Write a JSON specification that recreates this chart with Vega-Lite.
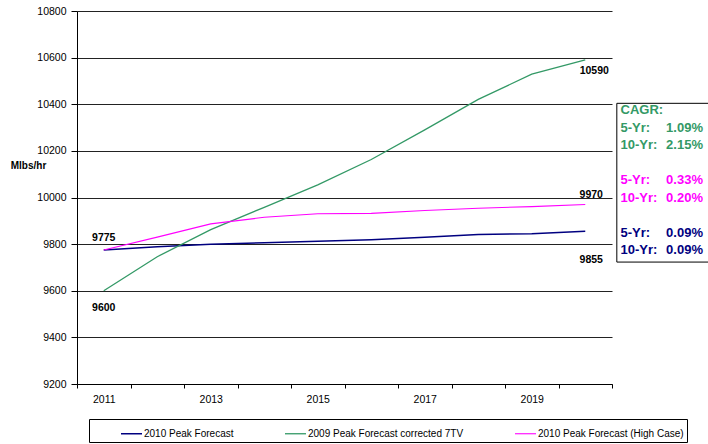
{
  "$schema": "https://vega.github.io/schema/vega-lite/v6.json",
  "width": 535,
  "height": 373,
  "autosize": {"type": "none"},
  "padding": {"left": 77, "top": 11, "right": 96, "bottom": 60},
  "background": "white",
  "config": {
    "view": {"stroke": null},
    "font": "Liberation Sans",
    "axis": {"labelFont": "Liberation Sans", "labelColor": "#000", "domainColor": "#000", "tickColor": "#000"}
  },
  "datasets": {
    "series": [
      {"year": 2011, "series": "2010 Peak Forecast", "value": 9775},
      {"year": 2012, "series": "2010 Peak Forecast", "value": 9789},
      {"year": 2013, "series": "2010 Peak Forecast", "value": 9799},
      {"year": 2014, "series": "2010 Peak Forecast", "value": 9806},
      {"year": 2015, "series": "2010 Peak Forecast", "value": 9812},
      {"year": 2016, "series": "2010 Peak Forecast", "value": 9819},
      {"year": 2017, "series": "2010 Peak Forecast", "value": 9829},
      {"year": 2018, "series": "2010 Peak Forecast", "value": 9841},
      {"year": 2019, "series": "2010 Peak Forecast", "value": 9845},
      {"year": 2020, "series": "2010 Peak Forecast", "value": 9855},
      {"year": 2011, "series": "2009 Peak Forecast corrected 7TV", "value": 9600},
      {"year": 2012, "series": "2009 Peak Forecast corrected 7TV", "value": 9746},
      {"year": 2013, "series": "2009 Peak Forecast corrected 7TV", "value": 9862},
      {"year": 2014, "series": "2009 Peak Forecast corrected 7TV", "value": 9958},
      {"year": 2015, "series": "2009 Peak Forecast corrected 7TV", "value": 10054},
      {"year": 2016, "series": "2009 Peak Forecast corrected 7TV", "value": 10163},
      {"year": 2017, "series": "2009 Peak Forecast corrected 7TV", "value": 10290},
      {"year": 2018, "series": "2009 Peak Forecast corrected 7TV", "value": 10421},
      {"year": 2019, "series": "2009 Peak Forecast corrected 7TV", "value": 10529},
      {"year": 2020, "series": "2009 Peak Forecast corrected 7TV", "value": 10590},
      {"year": 2011, "series": "2010 Peak Forecast (High Case)", "value": 9775},
      {"year": 2012, "series": "2010 Peak Forecast (High Case)", "value": 9830},
      {"year": 2013, "series": "2010 Peak Forecast (High Case)", "value": 9887},
      {"year": 2014, "series": "2010 Peak Forecast (High Case)", "value": 9915},
      {"year": 2015, "series": "2010 Peak Forecast (High Case)", "value": 9930},
      {"year": 2016, "series": "2010 Peak Forecast (High Case)", "value": 9932},
      {"year": 2017, "series": "2010 Peak Forecast (High Case)", "value": 9944},
      {"year": 2018, "series": "2010 Peak Forecast (High Case)", "value": 9954},
      {"year": 2019, "series": "2010 Peak Forecast (High Case)", "value": 9961},
      {"year": 2020, "series": "2010 Peak Forecast (High Case)", "value": 9970}
    ],
    "cagr": [
      {"slot": "h", "term": "CAGR:", "rate": "", "series": "2009 Peak Forecast corrected 7TV"},
      {"slot": "g5", "term": "5-Yr:", "rate": "1.09%", "series": "2009 Peak Forecast corrected 7TV"},
      {"slot": "g10", "term": "10-Yr:", "rate": "2.15%", "series": "2009 Peak Forecast corrected 7TV"},
      {"slot": "m5", "term": "5-Yr:", "rate": "0.33%", "series": "2010 Peak Forecast (High Case)"},
      {"slot": "m10", "term": "10-Yr:", "rate": "0.20%", "series": "2010 Peak Forecast (High Case)"},
      {"slot": "b5", "term": "5-Yr:", "rate": "0.09%", "series": "2010 Peak Forecast"},
      {"slot": "b10", "term": "10-Yr:", "rate": "0.09%", "series": "2010 Peak Forecast"}
    ]
  },
  "layer": [
    {
      "data": {"name": "series"},
      "layer": [
        {
          "mark": {"type": "line", "interpolate": "linear"},
          "encoding": {
            "x": {
              "field": "year", "type": "ordinal",
              "scale": {"type": "band", "paddingInner": 0, "paddingOuter": 0},
              "axis": {
                "title": null, "grid": false, "labelAngle": 0,
                "tickBand": "extent", "tickSize": 4, "labelPadding": 6,
                "labelFontSize": 10.5, "labelColor": "#000",
                "labelOverlap": "parity", "labelSeparation": 40
              }
            },
            "y": {
              "field": "value", "type": "quantitative",
              "scale": {"domain": [9200, 10800], "nice": false, "zero": false},
              "axis": {
                "values": [9200, 9400, 9600, 9800, 10000, 10200, 10400, 10600, 10800],
                "format": "d", "grid": true, "gridColor": "#222", "gridOpacity": 1, "gridWidth": 1,
                "tickSize": 6, "labelPadding": 5, "labelFontSize": 10.5,
                "title": "Mlbs/hr", "titleAngle": 0, "titleAlign": "center", "titleBaseline": "middle",
                "titleX": -49, "titleY": 154, "titleFontSize": 10, "titleFontWeight": "bold", "titleColor": "#000"
              }
            },
            "color": {
              "field": "series", "type": "nominal",
              "scale": {
                "domain": ["2010 Peak Forecast", "2009 Peak Forecast corrected 7TV", "2010 Peak Forecast (High Case)"],
                "range": ["#000080", "#339966", "#ff00ff"]
              },
              "legend": {
                "orient": "none", "legendX": 12, "legendY": 408, "direction": "horizontal",
                "title": null, "symbolType": "stroke", "symbolSize": 441, "symbolStrokeWidth": 1.5,
                "labelFontSize": 10, "labelFont": "Liberation Sans", "labelColor": "#000", "labelOffset": 1,
                "labelLimit": 0, "columnPadding": 22, "padding": 3, "symbolOffset": 28,
                "strokeColor": "#000", "fillColor": "#fff"
              }
            },
            "strokeWidth": {
              "field": "series", "type": "nominal",
              "scale": {
                "domain": ["2010 Peak Forecast", "2009 Peak Forecast corrected 7TV", "2010 Peak Forecast (High Case)"],
                "range": [1.5, 1.1, 1.5]
              },
              "legend": null
            }
          }
        },
        {
          "transform": [{"filter": "datum.year == 2011 && datum.series == '2010 Peak Forecast (High Case)'"}],
          "mark": {"type": "text", "fontWeight": "bold", "fontSize": 10.5, "color": "#000", "dy": -11.5},
          "encoding": {
            "x": {"field": "year", "type": "ordinal"},
            "y": {"field": "value", "type": "quantitative"},
            "text": {"field": "value", "type": "quantitative", "format": "d"}
          }
        },
        {
          "transform": [{"filter": "datum.year == 2011 && datum.series == '2009 Peak Forecast corrected 7TV'"}],
          "mark": {"type": "text", "fontWeight": "bold", "fontSize": 10.5, "color": "#000", "dy": 17},
          "encoding": {
            "x": {"field": "year", "type": "ordinal"},
            "y": {"field": "value", "type": "quantitative"},
            "text": {"field": "value", "type": "quantitative", "format": "d"}
          }
        },
        {
          "transform": [{"filter": "datum.year == 2020 && datum.series == '2009 Peak Forecast corrected 7TV'"}],
          "mark": {"type": "text", "fontWeight": "bold", "fontSize": 10.5, "color": "#000", "dx": 9, "dy": 11},
          "encoding": {
            "x": {"field": "year", "type": "ordinal"},
            "y": {"field": "value", "type": "quantitative"},
            "text": {"field": "value", "type": "quantitative", "format": "d"}
          }
        },
        {
          "transform": [{"filter": "datum.year == 2020 && datum.series == '2010 Peak Forecast (High Case)'"}],
          "mark": {"type": "text", "fontWeight": "bold", "fontSize": 10.5, "color": "#000", "dx": 6, "dy": -9},
          "encoding": {
            "x": {"field": "year", "type": "ordinal"},
            "y": {"field": "value", "type": "quantitative"},
            "text": {"field": "value", "type": "quantitative", "format": "d"}
          }
        },
        {
          "transform": [{"filter": "datum.year == 2020 && datum.series == '2010 Peak Forecast'"}],
          "mark": {"type": "text", "fontWeight": "bold", "fontSize": 10.5, "color": "#000", "dx": 6, "dy": 29},
          "encoding": {
            "x": {"field": "year", "type": "ordinal"},
            "y": {"field": "value", "type": "quantitative"},
            "text": {"field": "value", "type": "quantitative", "format": "d"}
          }
        }
      ]
    },
    {
      "data": {"values": [{}]},
      "mark": {"type": "rect", "fill": "#fff", "stroke": "#000", "strokeWidth": 1},
      "encoding": {
        "x": {"datum": 2020.59, "type": "quantitative", "scale": {"domain": [2010.5, 2020.5], "nice": false, "zero": false}, "axis": null},
        "x2": {"datum": 2022.6},
        "y": {"datum": 10404, "type": "quantitative", "scale": {"domain": [9200, 10800], "nice": false, "zero": false}, "axis": null},
        "y2": {"datum": 9723}
      }
    },
    {
      "data": {"name": "cagr"},
      "layer": [
        {
          "mark": {"type": "text", "fontWeight": "bold", "fontSize": 13, "align": "left", "baseline": "middle"},
          "encoding": {
            "x": {"datum": 2020.66, "type": "quantitative", "scale": {"domain": [2010.5, 2020.5], "nice": false, "zero": false}, "axis": null},
            "y": {
              "field": "slot", "type": "ordinal",
              "scale": {"type": "point", "domain": ["h", "g5", "g10", "s1", "m5", "m10", "s2", "b5", "b10"], "range": [99, 239], "padding": 0},
              "axis": null
            },
            "text": {"field": "term"},
            "color": {"field": "series", "type": "nominal"}
          }
        },
        {
          "mark": {"type": "text", "fontWeight": "bold", "fontSize": 13, "align": "right", "baseline": "middle"},
          "encoding": {
            "x": {"datum": 2022.2, "type": "quantitative"},
            "y": {"field": "slot", "type": "ordinal"},
            "text": {"field": "rate"},
            "color": {"field": "series", "type": "nominal"}
          }
        }
      ]
    }
  ],
  "resolve": {"scale": {"x": "independent", "y": "independent"}}
}
